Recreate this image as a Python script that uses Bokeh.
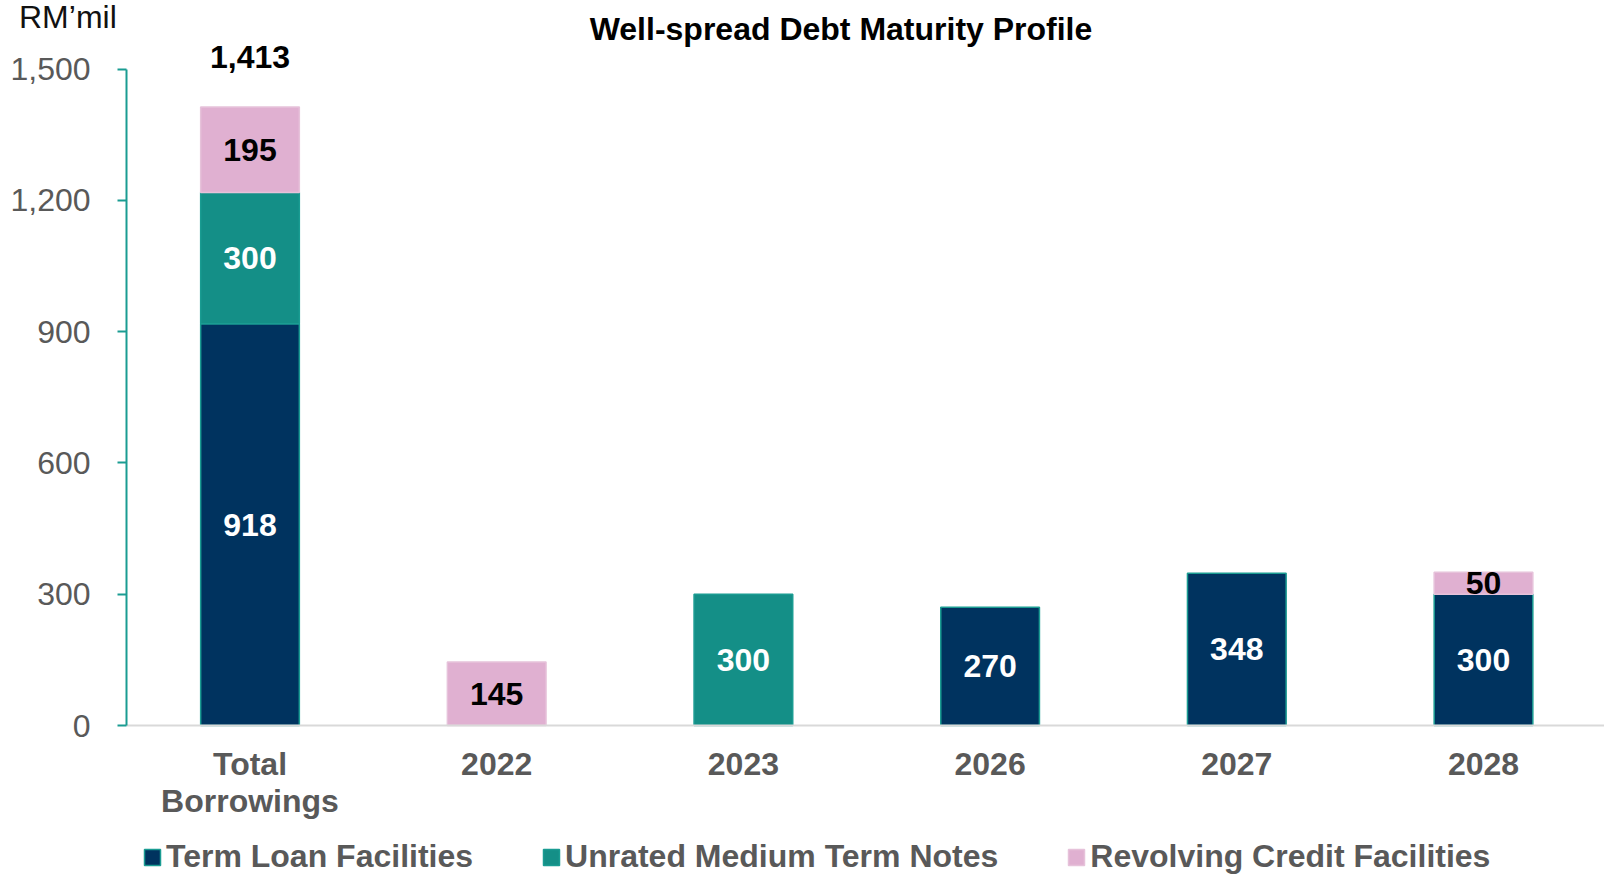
from bokeh.plotting import figure
from bokeh.models import (ColumnDataSource, FixedTicker, NumeralTickFormatter,
                          LabelSet, Label, Legend, LegendItem, LinearAxis)
from bokeh.core.properties import value
from bokeh.embed import file_html
from bokeh.resources import INLINE

# ---------------- data ----------------
categories = ["Total\nBorrowings", "2022", "2023", "2026", "2027", "2028"]
term_loan = [918, 0, 0, 270, 348, 300]
unrated_mtn = [300, 0, 300, 0, 0, 0]
revolving = [195, 145, 0, 0, 0, 50]
series_names = ["Term Loan Facilities", "Unrated Medium Term Notes", "Revolving Credit Facilities"]
y_ticks = [0, 300, 600, 900, 1200, 1500]
title_text = "Well-spread Debt Maturity Profile"
unit_text = "RM\u2019mil"

# ---------------- styles / layout ----------------
NAVY = "#00335F"
TEAL = "#148F87"
PINK = "#E0B0D1"
EDGE = "#1A9C92"
GREY = "#595959"
FONT = "Liberation Sans"
FS = "32px"

FIG_W, FIG_H = 1604, 876
FRAME_L, FRAME_T = 0, 0          # frame covers the whole canvas
FRAME_W, FRAME_H = FIG_W, FIG_H
CAT0_PX = 249.5                  # px of first category centre
XPX = 246.7                      # px per category
ZERO_PX = 725.0                  # px of y = 0
YPX = 656.5 / 1500.0             # px per unit


def fx(px):
    return (px - CAT0_PX) / XPX


def fy(py):
    return (ZERO_PX - py) / YPX


x_start, x_end = fx(FRAME_L), fx(FRAME_L + FRAME_W)
y_start, y_end = fy(FRAME_T + FRAME_H), fy(FRAME_T)

p = figure(width=FIG_W, height=FIG_H, output_backend="svg", toolbar_location=None,
           x_range=(x_start, x_end), y_range=(y_start, y_end),
           min_border=0, title=None, x_axis_type=None, y_axis_type=None)
p.outline_line_color = None
p.background_fill_color = "white"
p.border_fill_color = "white"

xs = list(range(len(categories)))

# axes drawn at fixed data locations
ya = LinearAxis(fixed_location=-0.5, bounds=(y_ticks[0], y_ticks[-1]))
ya.ticker = FixedTicker(ticks=y_ticks)
ya.formatter = NumeralTickFormatter(format="0,0")
ya.axis_line_color = EDGE
ya.axis_line_width = 2
ya.major_tick_line_color = EDGE
ya.major_tick_line_width = 2
ya.major_tick_out = 9
ya.major_tick_in = 0
ya.minor_tick_line_color = None
ya.major_label_standoff = 27
ya.major_label_text_font = FONT
ya.major_label_text_font_size = FS
ya.major_label_text_color = GREY
p.add_layout(ya, "left")

xa = LinearAxis(fixed_location=0, bounds=(-0.5, x_end))
xa.ticker = FixedTicker(ticks=xs)
xa.major_label_overrides = {i: c for i, c in zip(xs, categories)}
xa.axis_line_color = "#D9D9D9"
xa.axis_line_width = 2
xa.major_tick_line_color = None
xa.minor_tick_line_color = None
xa.major_label_standoff = 14
xa.major_label_text_font = FONT
xa.major_label_text_font_size = FS
xa.major_label_text_font_style = "bold"
xa.major_label_text_color = GREY
xa.major_label_text_line_height = 1.03
p.add_layout(xa, "below")

# stacked bars
stacks = [term_loan, unrated_mtn, revolving]
fills = [NAVY, TEAL, PINK]
edges = [EDGE, EDGE, "#E6C2DA"]
renderers = []
bottoms = [0] * len(categories)
lab_x, lab_y, lab_t, lab_c = [], [], [], []
for vals, fc, ec in zip(stacks, fills, edges):
    bx, bb, bt = [], [], []
    for i, v in enumerate(vals):
        if v > 0:
            bx.append(xs[i]); bb.append(bottoms[i]); bt.append(bottoms[i] + v)
            lab_x.append(xs[i]); lab_y.append(bottoms[i] + v / 2)
            lab_t.append(f"{v:,}"); lab_c.append("black" if fc == PINK else "white")
    src = ColumnDataSource(dict(x=bx, bottom=bb, top=bt))
    r = p.vbar(x="x", bottom="bottom", top="top", width=0.4, source=src,
               fill_color=fc, line_color=ec, line_width=1.5)
    renderers.append(r)
    bottoms = [b + v for b, v in zip(bottoms, vals)]

lab_src = ColumnDataSource(dict(x=lab_x, y=lab_y, text=lab_t, color=lab_c))
p.add_layout(LabelSet(x="x", y="y", text="text", source=lab_src, text_color="color",
                      text_align="center", text_baseline="middle",
                      text_font=value(FONT), text_font_size=value(FS),
                      text_font_style=value("bold")))

# total label above the first bar
total = bottoms[0]
p.add_layout(Label(x=xs[0], y=total + 50 / YPX, text=f"{total:,}", text_align="center",
                   text_baseline="middle", text_font=FONT, text_font_size=FS,
                   text_font_style="bold", text_color="black"))

# title & unit
p.add_layout(Label(x=fx(840.5), y=fy(28.5), text=title_text, text_align="center",
                   text_baseline="middle", text_font=FONT, text_font_size=FS,
                   text_font_style="bold", text_color="black"))
p.add_layout(Label(x=fx(18.5), y=fy(16.5), text=unit_text, text_align="left",
                   text_baseline="middle", text_font=FONT, text_font_size=FS,
                   text_color="#111111"))

legend = Legend(items=[LegendItem(label=n, renderers=[r]) for n, r in zip(series_names, renderers)],
                orientation="horizontal", location=(142 - FRAME_L, 1),
                label_text_font=FONT, label_text_font_size=FS, label_text_font_style="bold",
                label_text_color=GREY, glyph_width=20, glyph_height=20, label_standoff=4,
                spacing=68, padding=0, margin=0, border_line_color=None,
                background_fill_alpha=0)
p.add_layout(legend)

open("out.html", "w").write(file_html(p, INLINE))
